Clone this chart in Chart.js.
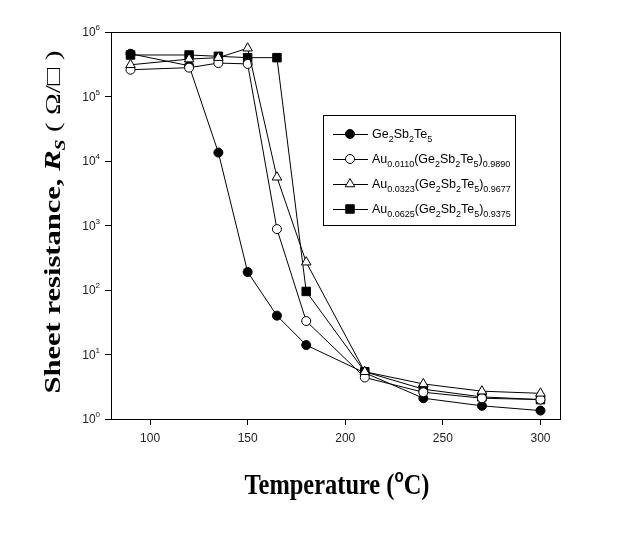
<!DOCTYPE html>
<html>
<head>
<meta charset="utf-8">
<script src="https://cdn.jsdelivr.net/npm/chart.js@4/dist/chart.umd.min.js"></script>
<style>
  html, body { margin: 0; padding: 0; background: #fff; }
  #wrap { width: 624px; height: 536px; }
</style>
</head>
<body>
<div id="wrap"><canvas id="rsChart" width="624" height="536"></canvas></div>
<script>
// Sheet resistance vs temperature
const temps = [90, 120, 135, 150, 165, 180, 210, 240, 270, 300];
const gst = [4.6e5, 3.0e5, 1.35e4, 190, 40, 14, 5.2, 2.1, 1.6, 1.35];
const au0110 = [2.6e5, 2.8e5, 3.3e5, 3.2e5, 880, 33, 4.4, 2.6, 2.1, 2.0];
const au0323 = [3.1e5, 3.8e5, 4.0e5, 5.6e5, 5.6e3, 270, 5.4, 3.5, 2.7, 2.5];
const au0625 = [4.4e5, 4.4e5, 4.2e5, 4.0e5, 4.0e5, 95, 5.4, 2.9, 2.2, 2.0];

const xTicks = [100, 150, 200, 250, 300];
const yTicks = [1, 10, 100, 1000, 1e4, 1e5, 1e6];

// legend labels as [text, 'n' | 's' (subscript)] pieces
const legendLabels = [
  [['Ge', 'n'], ['2', 's'], ['Sb', 'n'], ['2', 's'], ['Te', 'n'], ['5', 's']],
  [['Au', 'n'], ['0.0110', 's'], ['(Ge', 'n'], ['2', 's'], ['Sb', 'n'], ['2', 's'], ['Te', 'n'], ['5', 's'], [')', 'n'], ['0.9890', 's']],
  [['Au', 'n'], ['0.0323', 's'], ['(Ge', 'n'], ['2', 's'], ['Sb', 'n'], ['2', 's'], ['Te', 'n'], ['5', 's'], [')', 'n'], ['0.9677', 's']],
  [['Au', 'n'], ['0.0625', 's'], ['(Ge', 'n'], ['2', 's'], ['Sb', 'n'], ['2', 's'], ['Te', 'n'], ['5', 's'], [')', 'n'], ['0.9375', 's']]
];

function serie(data, style, fill, radius) {
  return {
    data: temps.map((t, i) => ({ x: t, y: data[i] })),
    borderColor: '#000',
    borderWidth: 1,
    pointStyle: style,
    pointRadius: radius,
    pointBackgroundColor: fill,
    pointBorderColor: '#000',
    pointBorderWidth: 1,
    tension: 0
  };
}

const datasets = [
  serie(au0323, 'triangle', '#fff', 5.5),
  serie(au0110, 'circle', '#fff', 4.5),
  serie(au0625, 'rect', '#000', 6),
  serie(gst, 'circle', '#000', 4.5)
];
// legend order -> dataset index
const legendOrder = [3, 1, 0, 2];

function drawPieces(ctx, pieces, x, y, size) {
  ctx.textBaseline = 'alphabetic';
  ctx.textAlign = 'left';
  for (const [txt, kind] of pieces) {
    if (kind === 's') {
      ctx.font = (size * 0.72) + 'px "Liberation Sans", Arial, sans-serif';
      ctx.fillText(txt, x, y + 4);
    } else {
      ctx.font = size + 'px "Liberation Sans", Arial, sans-serif';
      ctx.fillText(txt, x, y);
    }
    x += ctx.measureText(txt).width;
  }
  return x;
}

// draws mixed-font pieces, squeezed/stretched to a given length
function drawTitle(ctx, parts, x0, y0, length) {
  let tot = 0;
  for (const p of parts) { ctx.font = p[1]; tot += ctx.measureText(p[0]).width; }
  ctx.save();
  ctx.translate(x0, y0);
  ctx.scale(length / tot, 1);
  ctx.textAlign = 'left';
  ctx.textBaseline = 'alphabetic';
  let px = -tot / 2;
  for (const p of parts) {
    ctx.font = p[1];
    ctx.fillText(p[0], px, p[2]);
    px += ctx.measureText(p[0]).width;
  }
  ctx.restore();
}

const ekstra = {
  id: 'ekstra',
  afterDraw(chart) {
    const ctx = chart.ctx;
    const a = chart.chartArea;
    const ys = chart.scales.y;
    ctx.save();
    // box round the plot
    ctx.strokeStyle = '#000';
    ctx.lineWidth = 1;
    ctx.strokeRect(Math.round(a.left) + 0.5, Math.round(a.top) + 0.5, Math.round(a.right - a.left), Math.round(a.bottom - a.top));

    // y tick labels 10^n
    ctx.fillStyle = '#222';
    for (const v of yTicks) {
      const py = ys.getPixelForValue(v);
      const exp = String(Math.round(Math.log10(v)));
      ctx.textAlign = 'right';
      ctx.textBaseline = 'middle';
      ctx.font = '8px "Liberation Sans", Arial, sans-serif';
      const ew = ctx.measureText(exp).width;
      ctx.fillText(exp, 100, py - 4);
      ctx.font = '12px "Liberation Sans", Arial, sans-serif';
      ctx.fillText('10', 100 - ew, py + 1);
    }

    // y axis title
    ctx.fillStyle = '#000';
    ctx.save();
    ctx.translate(60, 222);
    ctx.rotate(-Math.PI / 2);
    drawTitle(ctx, [
      ['Sheet resistance, ', 'bold 23px "Liberation Serif", "Times New Roman", serif', 0],
      ['R', 'bold italic 23px "Liberation Serif", "Times New Roman", serif', 0],
      ['S', 'bold italic 15px "Liberation Serif", "Times New Roman", serif', 5],
      [' ( \u03A9/\u25A1 )', '22px "Liberation Serif", "Times New Roman", serif', 0]
    ], 0, 0, 343);
    ctx.restore();

    // x axis title
    drawTitle(ctx, [
      ['Temperature (', 'bold 29px "Liberation Serif", "Times New Roman", serif', 0],
      ['o', 'bold 18px "Liberation Sans", Arial, sans-serif', -12],
      ['C)', 'bold 29px "Liberation Serif", "Times New Roman", serif', 0]
    ], 337, 494, 185);

    // legend
    const lx = 323, ly = 115, lw = 192, lh = 110;
    ctx.fillStyle = '#fff';
    ctx.fillRect(lx, ly, lw, lh);
    ctx.strokeStyle = '#000';
    ctx.lineWidth = 1;
    ctx.strokeRect(lx + 0.5, ly + 0.5, lw, lh);
    legendOrder.forEach((di, i) => {
      const ds = chart.data.datasets[di];
      const cy = ly + 19 + i * 25;
      ctx.beginPath();
      ctx.moveTo(333, cy + 0.5);
      ctx.lineTo(368, cy + 0.5);
      ctx.strokeStyle = '#000';
      ctx.stroke();
      ctx.fillStyle = ds.pointBackgroundColor;
      ctx.strokeStyle = '#000';
      Chart.helpers.drawPoint(ctx, { pointStyle: ds.pointStyle, radius: ds.pointRadius, borderWidth: 1, rotation: 0 }, 350, cy);
      ctx.fillStyle = '#000';
      drawPieces(ctx, legendLabels[i], 372, cy + 4, 12.5);
    });
    ctx.restore();
  }
};

new Chart(document.getElementById('rsChart').getContext('2d'), {
  type: 'line',
  data: { datasets },
  options: {
    responsive: false,
    animation: false,
    layout: { padding: { left: 0, top: 32, right: 64, bottom: 0 } },
    plugins: { legend: { display: false }, tooltip: { enabled: false } },
    scales: {
      x: {
        type: 'linear',
        min: 80,
        max: 310,
        afterBuildTicks: s => { s.ticks = xTicks.map(v => ({ value: v })); },
        afterFit: s => { s.height = 117; },
        grid: { drawOnChartArea: false, tickLength: 6, color: '#000' },
        border: { display: true, color: '#000' },
        ticks: { color: '#222', padding: 6, maxRotation: 0, font: { family: '"Liberation Sans", Arial, sans-serif', size: 12 } }
      },
      y: {
        type: 'logarithmic',
        min: 1,
        max: 1e6,
        afterBuildTicks: s => { s.ticks = yTicks.map(v => ({ value: v })); },
        afterFit: s => { s.width = 111; },
        grid: { drawOnChartArea: false, tickLength: 6, color: '#000' },
        border: { display: true, color: '#000' },
        ticks: { callback: () => '' }
      }
    }
  },
  plugins: [ekstra]
});
</script>
</body>
</html>
